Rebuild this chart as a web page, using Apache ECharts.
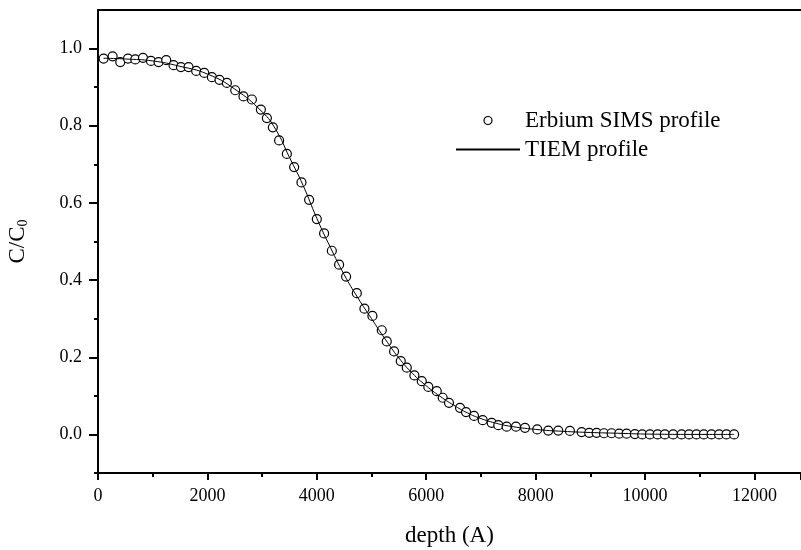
<!DOCTYPE html>
<html>
<head>
<meta charset="utf-8">
<script src="https://cdn.jsdelivr.net/npm/echarts@6/dist/echarts.min.js"></script>
<style>html,body{margin:0;padding:0;background:#fff}#chart{width:801px;height:550px}</style>
</head>
<body>
<div id="chart"></div>
<script>
// Erbium SIMS profile (measured points)
const simsDepth = [102, 267, 407, 548, 681, 822, 968, 1107, 1247, 1381, 1516, 1655, 1795, 1942, 2082, 2221, 2356, 2508, 2659, 2813, 2977, 3087, 3196, 3311, 3452, 3585, 3719, 3859, 4000, 4133, 4274, 4407, 4535, 4731, 4870, 5016, 5187, 5278, 5412, 5534, 5644, 5783, 5918, 6038, 6192, 6301, 6416, 6617, 6727, 6873, 7032, 7196, 7317, 7470, 7640, 7805, 8029, 8230, 8413, 8626, 8840, 8979, 9114, 9248, 9388, 9527, 9662, 9814, 9947, 10088, 10228, 10361, 10513, 10667, 10805, 10940, 11074, 11214, 11353, 11487, 11627];
const simsValue = [0.974, 0.980, 0.965, 0.974, 0.972, 0.976, 0.968, 0.965, 0.970, 0.957, 0.952, 0.952, 0.942, 0.937, 0.926, 0.919, 0.911, 0.892, 0.876, 0.868, 0.842, 0.820, 0.796, 0.762, 0.727, 0.693, 0.653, 0.608, 0.558, 0.521, 0.476, 0.440, 0.409, 0.366, 0.326, 0.307, 0.270, 0.241, 0.215, 0.190, 0.173, 0.153, 0.138, 0.123, 0.112, 0.095, 0.082, 0.069, 0.058, 0.048, 0.037, 0.030, 0.024, 0.020, 0.020, 0.017, 0.013, 0.010, 0.010, 0.009, 0.006, 0.004, 0.004, 0.003, 0.003, 0.002, 0.002, 0.001, 0.000, 0.000, 0.000, 0.000, 0.000, 0.000, 0.000, 0.000, 0.000, 0.000, 0.000, 0.000, 0.000];
// TIEM profile (fitted curve)
const tiemDepth = [100, 500, 1000, 1500, 2000, 2500, 3000, 3250, 3500, 3750, 4000, 4250, 4500, 4750, 5000, 5250, 5500, 5750, 6000, 6250, 6500, 6750, 7000, 7250, 7500, 8000, 8500, 9000, 9500, 10000, 11000, 11627];
const tiemValue = [0.975, 0.973, 0.968, 0.954, 0.934, 0.895, 0.836, 0.790, 0.718, 0.645, 0.560, 0.484, 0.414, 0.354, 0.300, 0.247, 0.198, 0.158, 0.126, 0.099, 0.076, 0.056, 0.041, 0.030, 0.022, 0.013, 0.008, 0.005, 0.003, 0.001, 0.000, 0.000];
// axis ticks
const xTickInterval = 2000;
const yMajorTicks = [0, 0.2, 0.4, 0.6, 0.8, 1.0];
const yMinorTicks = [-0.1, 0.1, 0.3, 0.5, 0.7, 0.9];

const font = '"Liberation Serif", "Times New Roman", serif';
const chart = echarts.init(document.getElementById('chart'), null, {renderer: 'canvas'});

const simsData = simsDepth.map((d, i) => [d, simsValue[i]]);
const tiemData = tiemDepth.map((d, i) => [d, tiemValue[i]]);

chart.setOption({
  animation: false,
  backgroundColor: '#fff',
  textStyle: {fontFamily: font, color: '#000'},
  grid: {left: 98, right: 0, top: 10, bottom: 77, containLabel: false, outerBoundsMode: 'none'},
  legend: {
    orient: 'vertical',
    left: 455,
    top: 109,
    padding: 0,
    itemWidth: 64,
    itemHeight: 8,
    itemGap: 6,
    textStyle: {fontFamily: font, fontSize: 23, color: '#000'},
    data: [
      {name: 'Erbium SIMS profile', icon: 'circle', itemStyle: {color: '#fff', borderColor: '#000', borderWidth: 1.2}},
      {name: 'TIEM profile', itemStyle: {opacity: 0}}
    ]
  },
  xAxis: [{
    type: 'value',
    min: 0,
    max: 12850,
    interval: xTickInterval,
    name: 'depth (A)',
    nameLocation: 'middle',
    nameGap: 51,
    nameTextStyle: {fontFamily: font, fontSize: 23, color: '#000'},
    axisLine: {onZero: false, lineStyle: {color: '#000', width: 2}},
    axisTick: {show: true, inside: false, length: 7, lineStyle: {color: '#000', width: 2}},
    minorTick: {show: true, splitNumber: 2, length: 4, lineStyle: {color: '#000', width: 2}},
    axisLabel: {fontFamily: font, fontSize: 18, color: '#000', margin: 14, showMaxLabel: false,
      formatter: v => String(Math.round(v))},
    splitLine: {show: false},
    minorSplitLine: {show: false}
  }, {
    type: 'value',
    position: 'top',
    min: 0,
    max: 12850,
    axisLine: {show: true, onZero: false, lineStyle: {color: '#000', width: 2}},
    axisTick: {show: false},
    axisLabel: {show: false},
    splitLine: {show: false}
  }],
  yAxis: [{
    type: 'value',
    min: -0.1,
    max: 1.1,
    interval: 0.1,
    name: 'C/C{sub|0}',
    nameLocation: 'middle',
    nameGap: 68,
    nameRotate: 90,
    nameTextStyle: {
      fontFamily: font, fontSize: 23, color: '#000',
      rich: {sub: {fontFamily: font, fontSize: 14, color: '#000', verticalAlign: 'bottom', padding: [11, 0, 0, 0]}}
    },
    axisLine: {onZero: false, lineStyle: {color: '#000', width: 2}},
    axisTick: {show: true, length: 9, customValues: yMajorTicks, lineStyle: {color: '#000', width: 2}},
    axisLabel: {fontFamily: font, fontSize: 18, color: '#000', margin: 16, customValues: yMajorTicks,
      formatter: v => Number(v).toFixed(1)},
    splitLine: {show: false}
  }, {
    type: 'value',
    position: 'left',
    min: -0.1,
    max: 1.1,
    interval: 0.1,
    axisLine: {show: false, onZero: false},
    axisTick: {show: true, length: 4, customValues: yMinorTicks, lineStyle: {color: '#000', width: 2}},
    axisLabel: {show: false},
    splitLine: {show: false}
  }],
  series: [{
    name: 'Erbium SIMS profile',
    type: 'scatter',
    data: simsData,
    symbol: 'circle',
    symbolSize: 9,
    itemStyle: {color: '#fff', borderColor: '#000', borderWidth: 1.2, opacity: 1},
    z: 2
  }, {
    name: 'TIEM profile',
    type: 'line',
    data: tiemData,
    smooth: true,
    symbol: 'none',
    lineStyle: {color: '#000', width: 1},
    itemStyle: {color: '#000'},
    z: 3
  }]
});
</script>
</body>
</html>
